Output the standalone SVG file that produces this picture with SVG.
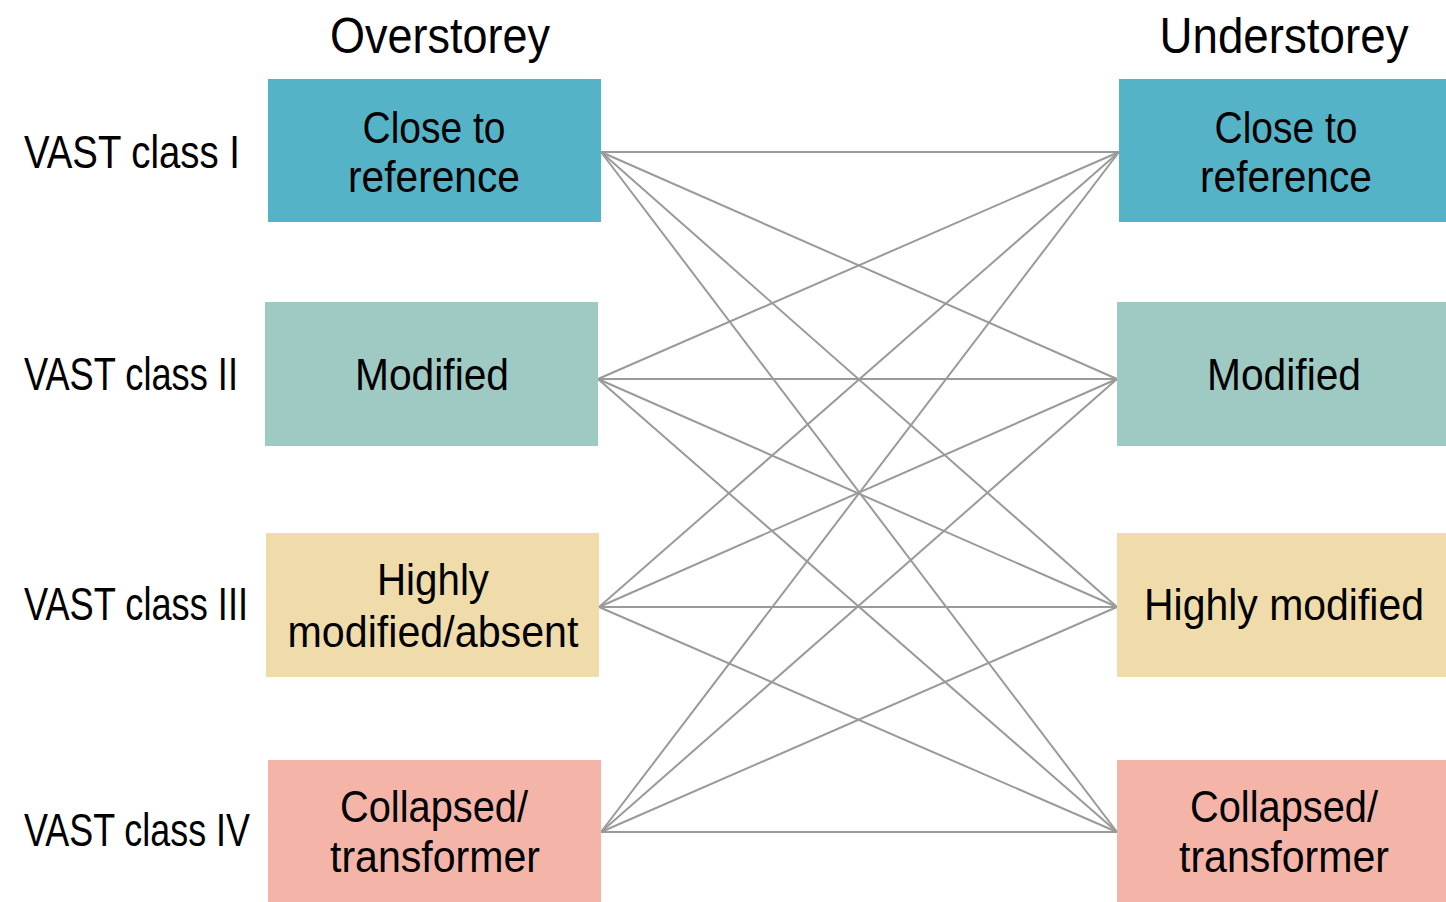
<svg xmlns="http://www.w3.org/2000/svg" width="1446" height="902" viewBox="0 0 1446 902">
<style>
text{font-family:"Liberation Sans",Arial,sans-serif;fill:#000;text-anchor:middle}
.t{font-size:50px}
.v{font-size:46px;text-anchor:start}
.b{font-size:44px}
.c1{fill:#55b3c8}.c2{fill:#9fcac3}.c3{fill:#f0dcaa}.c4{fill:#f4b5a8}
#connectors line{stroke:#9a9a9a;stroke-width:2;fill:none}
</style>
<rect width="1446" height="902" fill="#fff"/>
<g id="titles">
<text class="t" x="440" y="53" textLength="220" lengthAdjust="spacingAndGlyphs">Overstorey</text>
<text class="t" x="1284" y="53" textLength="249" lengthAdjust="spacingAndGlyphs">Understorey</text>
</g>
<g id="row-labels">
<text class="v" x="24" y="168" textLength="216" lengthAdjust="spacingAndGlyphs">VAST class I</text>
<text class="v" x="24" y="390" textLength="214" lengthAdjust="spacingAndGlyphs">VAST class II</text>
<text class="v" x="24" y="620" textLength="224" lengthAdjust="spacingAndGlyphs">VAST class III</text>
<text class="v" x="24" y="846" textLength="226" lengthAdjust="spacingAndGlyphs">VAST class IV</text>
</g>
<g id="connectors">
<line x1="601" y1="152" x2="1119" y2="152"/>
<line x1="601" y1="152" x2="1117" y2="379"/>
<line x1="601" y1="152" x2="1117" y2="607"/>
<line x1="601" y1="152" x2="1117" y2="832"/>
<line x1="598" y1="379" x2="1119" y2="152"/>
<line x1="598" y1="379" x2="1117" y2="379"/>
<line x1="598" y1="379" x2="1117" y2="607"/>
<line x1="598" y1="379" x2="1117" y2="832"/>
<line x1="599" y1="607" x2="1119" y2="152"/>
<line x1="599" y1="607" x2="1117" y2="379"/>
<line x1="599" y1="607" x2="1117" y2="607"/>
<line x1="599" y1="607" x2="1117" y2="832"/>
<line x1="601" y1="832" x2="1119" y2="152"/>
<line x1="601" y1="832" x2="1117" y2="379"/>
<line x1="601" y1="832" x2="1117" y2="607"/>
<line x1="601" y1="832" x2="1117" y2="832"/>
</g>
<g id="over-1">
<rect class="c1" x="268" y="79" width="333" height="143"/>
<text class="b" x="434" y="143" textLength="143" lengthAdjust="spacingAndGlyphs">Close to</text>
<text class="b" x="434" y="192" textLength="172" lengthAdjust="spacingAndGlyphs">reference</text>
</g>
<g id="over-2">
<rect class="c2" x="265" y="302" width="333" height="144"/>
<text class="b" x="432" y="390" textLength="154" lengthAdjust="spacingAndGlyphs">Modified</text>
</g>
<g id="over-3">
<rect class="c3" x="266" y="533" width="333" height="144"/>
<text class="b" x="433" y="595" textLength="112" lengthAdjust="spacingAndGlyphs">Highly</text>
<text class="b" x="433" y="647" textLength="291" lengthAdjust="spacingAndGlyphs">modified/absent</text>
</g>
<g id="over-4">
<rect class="c4" x="268" y="760" width="333" height="142"/>
<text class="b" x="434" y="822" textLength="188" lengthAdjust="spacingAndGlyphs">Collapsed/</text>
<text class="b" x="435" y="872" textLength="210" lengthAdjust="spacingAndGlyphs">transformer</text>
</g>
<g id="under-1">
<rect class="c1" x="1119" y="79" width="327" height="143"/>
<text class="b" x="1286" y="143" textLength="143" lengthAdjust="spacingAndGlyphs">Close to</text>
<text class="b" x="1286" y="192" textLength="172" lengthAdjust="spacingAndGlyphs">reference</text>
</g>
<g id="under-2">
<rect class="c2" x="1117" y="302" width="329" height="144"/>
<text class="b" x="1284" y="390" textLength="154" lengthAdjust="spacingAndGlyphs">Modified</text>
</g>
<g id="under-3">
<rect class="c3" x="1117" y="533" width="329" height="144"/>
<text class="b" x="1284" y="620" textLength="280" lengthAdjust="spacingAndGlyphs">Highly modified</text>
</g>
<g id="under-4">
<rect class="c4" x="1117" y="760" width="329" height="142"/>
<text class="b" x="1284" y="822" textLength="188" lengthAdjust="spacingAndGlyphs">Collapsed/</text>
<text class="b" x="1284" y="872" textLength="210" lengthAdjust="spacingAndGlyphs">transformer</text>
</g>
</svg>
